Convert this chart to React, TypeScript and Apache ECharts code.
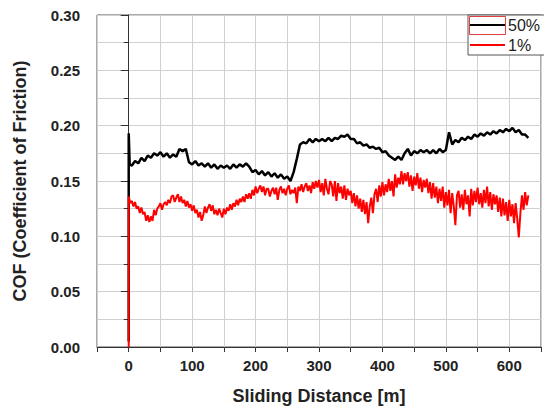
import React, { useEffect, useRef } from "react";
import * as echarts from "echarts";

// Sliding distance axis ticks [m]
const xTicks = [0, 100, 200, 300, 400, 500, 600];
const yTicks = [0.0, 0.05, 0.1, 0.15, 0.2, 0.25, 0.3];

const seriesNames = ["50%", "1%"];

// 50% : start spike, then COF sampled every 5 m from 5 m to 630 m
const blackStart: number[][] = [
  [0, 0.005],
  [0, 0.193],
  [1.5, 0.165],
];
const BLACK_STEP = 5;
const blackCOF = [
  0.164, 0.168, 0.166, 0.171, 0.168, 0.173, 0.171, 0.175, 0.173, 0.176,
  0.172, 0.175, 0.171, 0.174, 0.172, 0.179, 0.177, 0.179, 0.167, 0.165,
  0.168, 0.164, 0.166, 0.163, 0.166, 0.162, 0.165, 0.161, 0.164, 0.162,
  0.164, 0.161, 0.165, 0.162, 0.165, 0.163, 0.166, 0.163, 0.158, 0.16,
  0.156, 0.159, 0.155, 0.158, 0.154, 0.157, 0.153, 0.156, 0.152, 0.154,
  0.15, 0.158, 0.17, 0.183, 0.185, 0.184, 0.188, 0.185, 0.188, 0.186,
  0.188, 0.186, 0.189, 0.186, 0.189, 0.188, 0.191, 0.19, 0.192, 0.188,
  0.188, 0.184, 0.185, 0.182, 0.183, 0.18, 0.181, 0.179, 0.18, 0.176,
  0.177, 0.173, 0.171, 0.169, 0.172, 0.169, 0.175, 0.179, 0.173, 0.177,
  0.175, 0.178, 0.176, 0.178, 0.175, 0.178, 0.175, 0.179, 0.176, 0.178,
  0.194, 0.183, 0.187, 0.185, 0.189, 0.187, 0.19, 0.188, 0.192, 0.19,
  0.193, 0.191, 0.194, 0.192, 0.195, 0.193, 0.196, 0.194, 0.197, 0.195,
  0.198, 0.194, 0.196, 0.192, 0.192, 0.189,
];

// 1% : start from zero, then COF sampled every 2.5 m from 0 to 630 m
const redStart: number[][] = [[0, 0.0]];
const RED_STEP = 2.5;
const redCOF = [
  0.136, 0.13, 0.132, 0.127, 0.131, 0.125, 0.127, 0.121,
  0.126, 0.12, 0.122, 0.114, 0.119, 0.113, 0.118, 0.114,
  0.124, 0.119, 0.125, 0.127, 0.13, 0.124, 0.129, 0.131,
  0.128, 0.133, 0.13, 0.136, 0.137, 0.131, 0.135, 0.138,
  0.131, 0.136, 0.13, 0.133, 0.127, 0.132, 0.126, 0.129,
  0.123, 0.128, 0.121, 0.124, 0.117, 0.122, 0.114, 0.119,
  0.127, 0.121, 0.126, 0.129, 0.123, 0.128, 0.12, 0.124,
  0.119, 0.125, 0.121, 0.117, 0.125, 0.12, 0.126, 0.123,
  0.129, 0.124, 0.13, 0.127, 0.133, 0.128, 0.134, 0.131,
  0.136, 0.131, 0.138, 0.134, 0.139, 0.134, 0.142, 0.137,
  0.145, 0.139, 0.143, 0.146, 0.14, 0.145, 0.137, 0.143,
  0.143, 0.136, 0.141, 0.144, 0.138, 0.144, 0.133, 0.142,
  0.145, 0.139, 0.143, 0.137, 0.143, 0.146, 0.138, 0.142,
  0.139, 0.144, 0.13, 0.145, 0.141, 0.147, 0.14, 0.145,
  0.148, 0.141, 0.146, 0.139, 0.149, 0.143, 0.15, 0.144,
  0.151, 0.14, 0.148, 0.137, 0.152, 0.143, 0.138, 0.15,
  0.147, 0.136, 0.15, 0.132, 0.148, 0.139, 0.145, 0.134,
  0.146, 0.133, 0.143, 0.137, 0.141, 0.13, 0.139, 0.127,
  0.137, 0.125, 0.134, 0.122, 0.133, 0.12, 0.131, 0.112,
  0.127, 0.135, 0.121, 0.138, 0.143, 0.131, 0.146, 0.136,
  0.149, 0.137, 0.147, 0.14, 0.152, 0.141, 0.15, 0.136,
  0.156, 0.144, 0.153, 0.147, 0.159, 0.147, 0.157, 0.15,
  0.158, 0.145, 0.155, 0.141, 0.154, 0.146, 0.157, 0.143,
  0.153, 0.14, 0.151, 0.144, 0.152, 0.139, 0.149, 0.134,
  0.148, 0.135, 0.145, 0.13, 0.143, 0.132, 0.145, 0.126,
  0.14, 0.128, 0.142, 0.121, 0.139, 0.127, 0.11, 0.137,
  0.141, 0.126, 0.138, 0.124, 0.142, 0.129, 0.137, 0.118,
  0.143, 0.128, 0.141, 0.131, 0.144, 0.129, 0.139, 0.126,
  0.142, 0.13, 0.145, 0.127, 0.14, 0.124, 0.138, 0.129,
  0.137, 0.122, 0.135, 0.118, 0.134, 0.119, 0.131, 0.114,
  0.133, 0.118, 0.129, 0.112, 0.13, 0.116, 0.099, 0.121,
  0.137, 0.124, 0.14, 0.128, 0.137,
];

const FONT = "'Liberation Sans', Arial, sans-serif";

export default function App() {
  const ref = useRef<HTMLDivElement>(null);

  useEffect(() => {
    if (!ref.current) return;
    const chart = echarts.init(ref.current, undefined, { renderer: "svg" });

    const blackData = [
      ...blackStart,
      ...blackCOF.map((v, i) => [(i + 1) * BLACK_STEP, v]),
    ];
    const redData = [
      ...redStart,
      ...redCOF.map((v, i) => [i * RED_STEP, v]),
    ];

    chart.setOption({
      animation: false,
      backgroundColor: "#ffffff",
      textStyle: { fontFamily: FONT },
      grid: {
        left: 97,
        top: 15,
        width: 449,
        height: 332,
        show: true,
        borderColor: "#555",
        borderWidth: 1,
        containLabel: false,
      },
      legend: {
        orient: "vertical",
        left: 468,
        top: 15,
        padding: [2, 40, 2, 2],
        itemGap: 4,
        itemWidth: 35,
        itemHeight: 2,
        borderColor: "#555",
        borderWidth: 1,
        backgroundColor: "#fff",
        textStyle: { fontFamily: FONT, fontSize: 16, color: "#222", padding: [0, 0, 0, -2] },
        data: [
          { name: seriesNames[0], icon: "rect" },
          { name: seriesNames[1], icon: "rect" },
        ],
      },
      graphic: [
        {
          type: "rect",
          z: 100,
          shape: { x: 469.5, y: 16.5, width: 36, height: 18 },
          style: { fill: "none", stroke: "#e04040", lineWidth: 1 },
        },
      ],
      xAxis: {
        type: "value",
        min: -50,
        max: 650,
        interval: 50,
        name: "Sliding Distance [m]",
        nameLocation: "middle",
        nameGap: 40,
        nameTextStyle: { fontFamily: FONT, fontSize: 18, fontWeight: "bold", color: "#222" },
        axisLine: { show: true, onZero: false, lineStyle: { color: "#333", width: 1 } },
        axisTick: { show: true, length: 5, lineStyle: { color: "#333" } },
        axisLabel: {
          margin: 11,
          fontFamily: FONT,
          fontSize: 15,
          fontWeight: "bold",
          color: "#222",
          formatter: (v: number) => (xTicks.includes(v) ? String(v) : ""),
        },
        splitLine: { show: true, lineStyle: { color: "#d0d0d0", width: 1 } },
      },
      yAxis: {
        type: "value",
        min: 0,
        max: 0.3,
        interval: 0.05,
        name: "COF (Coefficient of Friction)",
        nameLocation: "middle",
        nameGap: 68,
        nameTextStyle: { fontFamily: FONT, fontSize: 18, fontWeight: "bold", color: "#222" },
        axisLine: { show: true, lineStyle: { color: "#333", width: 1 } },
        axisTick: { show: true, length: 8, lineStyle: { color: "#333" } },
        minorTick: { show: true, splitNumber: 2, length: 5, lineStyle: { color: "#333" } },
        minorSplitLine: { show: true, lineStyle: { color: "#d0d0d0", width: 1 } },
        axisLabel: {
          margin: 17,
          fontFamily: FONT,
          fontSize: 15,
          fontWeight: "bold",
          color: "#222",
          formatter: (v: number) => {
            const t = yTicks.find((y) => Math.abs(y - v) < 1e-9);
            return t === undefined ? "" : t.toFixed(2);
          },
        },
        splitLine: { show: true, lineStyle: { color: "#d0d0d0", width: 1 } },
      },
      series: [
        {
          name: seriesNames[0],
          type: "line",
          data: blackData,
          showSymbol: false,
          symbol: "none",
          color: "#000000",
          lineStyle: { color: "#000000", width: 2.5 },
          z: 2,
        },
        {
          name: seriesNames[1],
          type: "line",
          data: redData,
          showSymbol: false,
          symbol: "none",
          color: "#ff0000",
          lineStyle: { color: "#ff0000", width: 2 },
          z: 3,
        },
      ],
    });

    return () => chart.dispose();
  }, []);

  return (
    <div
      ref={ref}
      style={{ position: "absolute", left: 0, top: 0, width: 544, height: 410 }}
    />
  );
}
